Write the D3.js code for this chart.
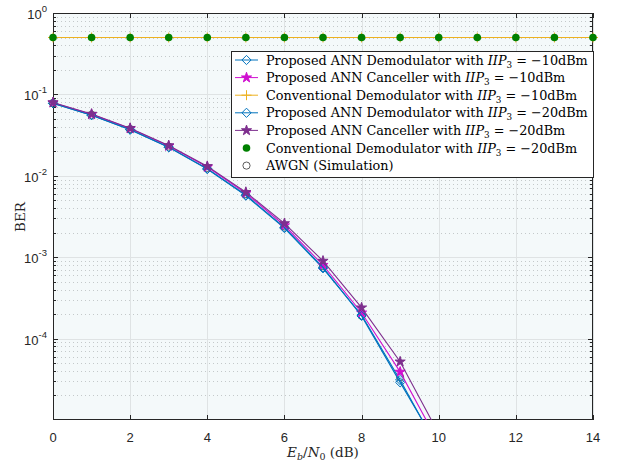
<!DOCTYPE html>
<html><head><meta charset="utf-8">
<script src="https://cdn.jsdelivr.net/npm/d3@7"></script>
<style>body{margin:0;background:#fff}svg{display:block}</style>
</head><body>
<svg id="c" width="617" height="463"></svg>
<script>
// ---- data ----
const ebn0 = [0,1,2,3,4,5,6,7,8,9,10,11,12,13,14];
const annDem10  = [0.0775,0.0555,0.0368,0.0224,0.0121,0.0057,0.00228,7.3e-4,1.95e-4,3.1e-5,4.3e-6];
const annCanc10 = [0.0790,0.0568,0.0380,0.0232,0.0128,0.0061,0.00245,8.0e-4,2.08e-4,3.9e-5,5.2e-6];
const conv10    = [0.5,0.5,0.5,0.5,0.5,0.5,0.5,0.5,0.5,0.5,0.5,0.5,0.5,0.5,0.5];
const annDem20  = [0.0778,0.0556,0.0370,0.0225,0.0122,0.0058,0.00232,7.5e-4,1.90e-4,2.9e-5,4.5e-6];
const annCanc20 = [0.0795,0.0575,0.0385,0.0236,0.0131,0.0063,0.0026,9.0e-4,2.4e-4,5.2e-5,6.8e-6];
const conv20    = [0.5,0.5,0.5,0.5,0.5,0.5,0.5,0.5,0.5,0.5,0.5,0.5,0.5,0.5,0.5];
const awgn      = [0.0786,0.0563,0.0375,0.0229,0.0125,0.00595,0.00239,7.73e-4,1.91e-4,3.36e-5];
const xTicks = [0,2,4,6,8,10,12,14];
const yTickExps = [0,-1,-2,-3,-4];
const legendNames = [
  ["Proposed ANN Demodulator with ","−10dBm"],
  ["Proposed ANN Canceller with ","−10dBm"],
  ["Conventional Demodulator with ","−10dBm"],
  ["Proposed ANN Demodulator with ","−20dBm"],
  ["Proposed ANN Canceller with ","−20dBm"],
  ["Conventional Demodulator with ","−20dBm"],
  ["AWGN (Simulation)",null]
];

// ---- layout ----
const L=53,R=593,T=13,B=420;
const svg=d3.select("#c");
const x=d3.scaleLinear().domain([0,14]).range([L,R]);
const y=d3.scaleLog().domain([1e-5,1]).range([B,T]);

svg.append("rect").attr("x",L).attr("y",T).attr("width",R-L).attr("height",B-T).attr("fill","#f4f9fa");

// minor grid
const minorVals=[];
for(let e=-5;e<0;e++) for(let m=2;m<=9;m++) minorVals.push(m*Math.pow(10,e));
const g=svg.append("g");
g.selectAll(".mn").data(minorVals).enter().append("line")
 .attr("x1",L).attr("x2",R).attr("y1",d=>Math.round(y(d))+0.5).attr("y2",d=>Math.round(y(d))+0.5)
 .attr("stroke","#c4c9ca").attr("stroke-dasharray","1,3").attr("stroke-width",1);
// major grid
g.selectAll(".mj").data(yTickExps).enter().append("line")
 .attr("x1",L).attr("x2",R).attr("y1",d=>Math.round(y(Math.pow(10,d)))+0.5).attr("y2",d=>Math.round(y(Math.pow(10,d)))+0.5)
 .attr("stroke","#dfe3e4").attr("stroke-width",1);
g.selectAll(".mx").data(xTicks).enter().append("line")
 .attr("y1",T).attr("y2",B).attr("x1",d=>Math.round(x(d))+0.5).attr("x2",d=>Math.round(x(d))+0.5)
 .attr("stroke","#dfe3e4").attr("stroke-width",1);

// axes box
svg.append("rect").attr("x",L+0.5).attr("y",T+0.5).attr("width",R-L-1).attr("height",B-T-1)
 .attr("fill","none").attr("stroke","#262626").attr("stroke-width",1);

// ticks
const tk=svg.append("g").attr("stroke","#262626").attr("stroke-width",1);
xTicks.forEach(t=>{const xx=Math.round(x(t))+0.5;
  tk.append("line").attr("x1",xx).attr("x2",xx).attr("y1",B).attr("y2",B-5);
  tk.append("line").attr("x1",xx).attr("x2",xx).attr("y1",T).attr("y2",T+5);});
yTickExps.forEach(e=>{const yy=Math.round(y(Math.pow(10,e)))+0.5;
  tk.append("line").attr("x1",L).attr("x2",L+5).attr("y1",yy).attr("y2",yy);
  tk.append("line").attr("x1",R).attr("x2",R-5).attr("y1",yy).attr("y2",yy);});
minorVals.forEach(v=>{const yy=Math.round(y(v))+0.5;
  tk.append("line").attr("x1",L).attr("x2",L+3).attr("y1",yy).attr("y2",yy);
  tk.append("line").attr("x1",R).attr("x2",R-3).attr("y1",yy).attr("y2",yy);});

// clip for lines
svg.append("clipPath").attr("id","clp").append("rect").attr("x",L).attr("y",T).attr("width",R-L).attr("height",B-T);
const plot=svg.append("g");

const diamond = r => `M0,${-r}L${r},0L0,${r}L${-r},0Z`;
const star = d3.symbol().type(d3.symbolStar).size(32)();
const plus = r => `M${-r},0H${r}M0,${-r}V${r}`;

const series = [
  {vals:annDem10, color:"#0072BD", line:true, marker:"diamond"},
  {vals:annCanc10, color:"#d010d0", line:true, marker:"star"},
  {vals:conv10, color:"#EDB120", line:true, marker:"plus"},
  {vals:annDem20, color:"#0072BD", line:true, marker:"diamond"},
  {vals:annCanc20, color:"#7E2F8E", line:true, marker:"star"},
  {vals:conv20, color:"#008000", line:false, marker:"dot"},
  {vals:awgn, color:"#000000", line:false, marker:"circle"}
];
function drawMarker(sel,s){
  if(s.marker==="diamond") sel.append("path").attr("d",diamond(4.6)).attr("fill","none").attr("stroke",s.color).attr("stroke-width",1);
  else if(s.marker==="star") sel.append("path").attr("d",star).attr("fill",s.color).attr("stroke",s.color).attr("stroke-width",1);
  else if(s.marker==="plus") sel.append("path").attr("d",plus(5)).attr("fill","none").attr("stroke",s.color).attr("stroke-width",1);
  else if(s.marker==="dot") sel.append("circle").attr("r",3.8).attr("fill",s.color);
  else if(s.marker==="circle") sel.append("circle").attr("r",3.6).attr("fill","none").attr("stroke","#333").attr("stroke-width",0.8);
}
const lineGen=d3.line().x(d=>x(d[0])).y(d=>y(d[1]));
const order=[6,0,1,2,3,4,5];
order.forEach(i=>{
  const s=series[i];
  const pts=s.vals.map((v,j)=>[ebn0[j],v]);
  if(s.line) plot.append("path").attr("clip-path","url(#clp)").attr("d",lineGen(pts)).attr("fill","none").attr("stroke",s.color).attr("stroke-width",1.1);
  pts.filter(p=>p[1]>=1e-5).forEach(p=>{
    const m=plot.append("g").attr("transform",`translate(${x(p[0])},${y(p[1])})`);
    drawMarker(m,s);
  });
});

// tick labels
const lab=svg.append("g").attr("font-family","Liberation Sans, Arial, sans-serif").attr("fill","#262626");
xTicks.forEach(t=>lab.append("text").attr("x",x(t)).attr("y",442).attr("text-anchor","middle").attr("font-size",13).text(t));
yTickExps.forEach(e=>{
  const t=lab.append("text").attr("x",47).attr("y",y(Math.pow(10,e))+6).attr("text-anchor","end").attr("font-size",13);
  t.append("tspan").text("10");
  t.append("tspan").attr("dy",-7).attr("font-size",9.5).text(e===0?"0":"-"+(-e));
});

// axis labels
const serif="DejaVu Serif, Liberation Serif, serif";
svg.append("text").attr("transform","translate(25,217) rotate(-90)").attr("text-anchor","middle")
  .attr("font-family",serif).attr("font-size",13.5).attr("fill","#262626").text("BER");
const xl=svg.append("text").attr("x",323).attr("y",457).attr("text-anchor","middle")
  .attr("font-family",serif).attr("font-size",13.5).attr("fill","#262626");
xl.append("tspan").attr("font-style","italic").text("E");
xl.append("tspan").attr("font-style","italic").attr("font-size",9.5).attr("dy",3).text("b");
xl.append("tspan").attr("dy",-3).text("/");
xl.append("tspan").attr("font-style","italic").text("N");
xl.append("tspan").attr("font-size",9.5).attr("dy",3).text("0");
xl.append("tspan").attr("dy",-3).text(" (dB)");

// legend
const lg=svg.append("g");
lg.append("rect").attr("x",231.5).attr("y",51.5).attr("width",362).attr("height",126)
  .attr("fill","#fff").attr("stroke","#262626").attr("stroke-width",1);
const texts=[];
legendNames.forEach((nm,i)=>{
  const yy=60+i*17.6, s=series[i];
  const r=lg.append("g");
  if(s.line) r.append("line").attr("x1",235).attr("x2",258).attr("y1",yy).attr("y2",yy).attr("stroke",s.color).attr("stroke-width",1);
  const m=r.append("g").attr("transform",`translate(246.5,${yy})`);
  drawMarker(m,s);
  const t=r.append("text").attr("x",266).attr("y",yy+4.5).attr("font-family",serif).attr("font-size",13).attr("fill","#000");
  t.append("tspan").text(nm[0]);
  if(nm[1]){
    t.append("tspan").attr("font-style","italic").text("IIP");
    t.append("tspan").attr("class","sub").attr("font-size",9).attr("dy",3).text("3");
    t.append("tspan").attr("dy",-3).text(" = "+nm[1]);
  }
  texts.push(t);
});
// fit legend text width to the reference (first row ≈ 322px wide)
const w0=texts[0].node().getComputedTextLength();
const fs=Math.min(13.5,13*322/w0);
texts.forEach(t=>{t.attr("font-size",fs); t.selectAll(".sub").attr("font-size",fs*0.69);});
</script>
</body></html>
